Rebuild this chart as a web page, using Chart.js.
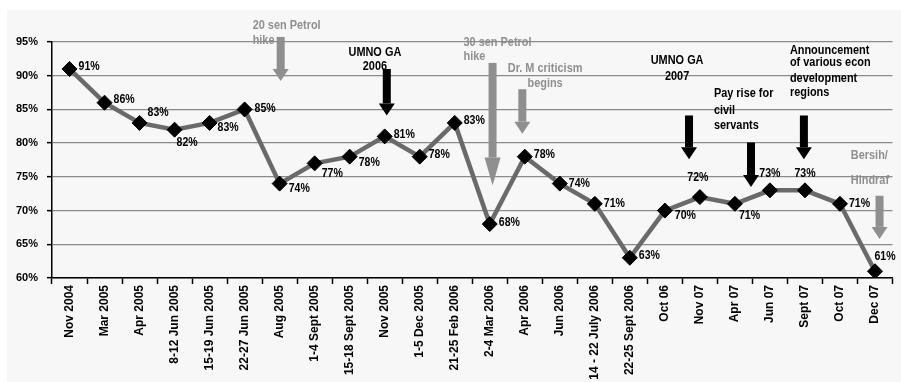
<!DOCTYPE html>
<html>
<head>
<meta charset="utf-8">
<script src="https://cdn.jsdelivr.net/npm/chart.js@4.4.1/dist/chart.umd.min.js"></script>
<style>
  html, body { margin: 0; padding: 0; background: #fff; }
  #wrap { width: 901px; height: 382px; }
</style>
</head>
<body>
<div id="wrap"><canvas id="approval" width="901" height="382"></canvas></div>
<script>
// Data
const categories = [
  'Nov 2004', 'Mar 2005', 'Apr 2005', '8-12 Jun 2005', '15-19 Jun 2005', '22-27 Jun 2005',
  'Aug 2005', '1-4 Sept 2005', '15-18 Sept 2005', 'Nov 2005', '1-5 Dec 2005', '21-25 Feb 2006',
  '2-4 Mar 2006', 'Apr 2006', 'Jun 2006', '14 - 22 July 2006', '22-25 Sept 2006', 'Oct 06',
  'Nov 07', 'Apr 07', 'Jun 07', 'Sept 07', 'Oct 07', 'Dec 07'
];
const approval = [91, 86, 83, 82, 83, 85, 74, 77, 78, 81, 78, 83, 68, 78, 74, 71, 63, 70, 72, 71, 73, 73, 71, 61];
const yTickValues = [60, 65, 70, 75, 80, 85, 90, 95];
const yTickLabels = ['60%', '65%', '70%', '75%', '80%', '85%', '90%', '95%'];

// where each value label sits relative to its marker: [dx, dy, align]
const labelPlacement = [
  [9, -2, 'left'], [9, -3, 'left'], [8, -10, 'left'], [2, 13, 'left'], [8, 5, 'left'], [10, -1, 'left'],
  [9, 5, 'left'], [7, 10, 'left'], [9, 6, 'left'], [9, -2, 'left'], [9, -2, 'left'], [9, -2, 'left'],
  [9, -1, 'left'], [9, -2, 'left'], [9, 0, 'left'], [9, 0, 'left'], [9, -2, 'left'], [10, 5, 'left'],
  [-2, -19, 'center'], [4, 12, 'left'], [0, -17, 'center'], [0, -17, 'center'], [9, 0, 'left'], [10, -15, 'center']
];

// event notes: text anchored at (category index, value), arrow from value a0 to a1
const GREY = '#8f8f8f';
const events = [
  { lines: ['20 sen Petrol', 'hike'], color: GREY, align: 'left', tx: 5.23, ty: [97.5, 95.3], ax: 6.03, a0: 95.75, a1: 89.2, head: 12 },
  { lines: ['UMNO GA', '2006'], color: '#000', align: 'center', tx: 8.72, ty: [93.5, 91.4], ax: 9.06, a0: 91.0, a1: 84.1, head: 12 },
  { lines: ['30 sen Petrol', 'hike'], color: GREY, align: 'left', tx: 11.25, ty: [95.0, 92.8], ax: 12.08, a0: 91.9, a1: 73.7, head: 28 },
  { lines: ['Dr. M criticism', 'begins'], color: GREY, align: 'center', tx: 13.58, ty: [91.1, 88.9], ax: 12.93, a0: 88.0, a1: 81.4, head: 12 },
  { lines: ['UMNO GA', '2007'], color: '#000', align: 'center', tx: 17.35, ty: [92.3, 89.9], ax: 17.69, a0: 84.1, a1: 77.6, head: 12 },
  { lines: ['Pay rise for', 'civil', 'servants'], color: '#000', align: 'left', tx: 18.4, ty: [87.3, 84.9, 82.6], ax: 19.46, a0: 80.1, a1: 73.5, head: 12 },
  { lines: ['Announcement', 'of various econ', 'development', 'regions'], color: '#000', align: 'left', tx: 20.57, ty: [93.8, 91.9, 89.6, 87.5], ax: 20.97, a0: 84.1, a1: 77.6, head: 12 },
  { lines: ['Bersih/', 'Hindraf'], color: GREY, align: 'left', tx: 22.31, ty: [78.2, 74.4], ax: 23.13, a0: 72.2, a1: 65.8, head: 12 }
];

const FONT = '"Liberation Sans", Arial, sans-serif';

// narrow-looking text: squeeze horizontally
function narrowText(c, t, x, y, align, sx) {
  c.save();
  c.translate(x, y);
  c.scale(sx, 1);
  c.textAlign = align;
  c.fillText(t, 0, 0);
  c.restore();
}

// light grey panel behind the chart
const panel = {
  id: 'panel',
  beforeDraw(chart) {
    const c = chart.ctx;
    c.save();
    c.fillStyle = '#f7f7f7';
    c.fillRect(7, 10, chart.width - 7, chart.height - 10);
    c.restore();
  }
};

const valueLabels = {
  id: 'valueLabels',
  afterDatasetsDraw(chart) {
    const c = chart.ctx;
    const meta = chart.getDatasetMeta(0);
    c.save();
    c.font = 'bold 12px ' + FONT;
    c.fillStyle = '#000';
    c.textBaseline = 'middle';
    meta.data.forEach((pt, i) => {
      const p = labelPlacement[i];
      narrowText(c, approval[i] + '%', pt.x + p[0], pt.y + p[1], p[2], 0.88);
    });
    c.restore();
  }
};

const notes = {
  id: 'notes',
  afterDraw(chart) {
    const c = chart.ctx;
    const xs = chart.scales.x, ys = chart.scales.y;
    const x0 = xs.getPixelForValue(0);
    const step = xs.getPixelForValue(1) - x0;
    const px = f => x0 + f * step;
    c.save();
    events.forEach(ev => {
      c.fillStyle = ev.color;
      c.font = 'bold 13px ' + FONT;
      c.textBaseline = 'middle';
      ev.lines.forEach((t, k) => narrowText(c, t, px(ev.tx), ys.getPixelForValue(ev.ty[k]), ev.align, 0.84));

      // arrow pointing down
      const ax = px(ev.ax);
      const y0 = ys.getPixelForValue(ev.a0);
      const y1 = ys.getPixelForValue(ev.a1);
      const sw = 8, hw = 16;
      c.fillRect(ax - sw / 2, y0, sw, y1 - y0 - ev.head);
      c.beginPath();
      c.moveTo(ax - hw / 2, y1 - ev.head);
      c.lineTo(ax + hw / 2, y1 - ev.head);
      c.lineTo(ax, y1);
      c.closePath();
      c.fill();
    });
    c.restore();
  }
};

new Chart(document.getElementById('approval'), {
  type: 'line',
  data: {
    labels: categories,
    datasets: [{
      data: approval,
      borderColor: '#6a6a6a',
      borderWidth: 4.5,
      tension: 0,
      pointStyle: 'rectRot',
      pointRadius: 7.5,
      pointBackgroundColor: '#000',
      pointBorderColor: '#000',
      pointBorderWidth: 1
    }]
  },
  options: {
    responsive: false,
    animation: false,
    layout: { padding: { left: 0, top: 42, right: 7, bottom: 0 } },
    plugins: {
      legend: { display: false },
      tooltip: { enabled: false }
    },
    scales: {
      x: {
        offset: true,
        grid: { display: true, offset: true, drawOnChartArea: false, drawTicks: true, tickLength: 6, tickColor: '#000', tickWidth: 1.5 },
        border: { display: true, color: '#000', width: 1.5 },
        ticks: {
          autoSkip: false,
          maxRotation: 90,
          minRotation: 90,
          padding: 1,
          color: '#000',
          font: { family: FONT, size: 12, weight: 'bold' }
        },
        afterFit(scale) { scale.height = 104; }
      },
      y: {
        min: 60,
        max: 95,
        afterBuildTicks(scale) { scale.ticks = yTickValues.map(v => ({ value: v })); },
        grid: { color: '#8a8a8a', lineWidth: 1.3, tickLength: 5, tickColor: '#000', tickWidth: 1.5 },
        border: { display: true, color: '#000', width: 1.5 },
        ticks: {
          padding: 9,
          color: '#000',
          font: { family: FONT, size: 11, weight: 'bold' },
          callback: (v) => yTickLabels[yTickValues.indexOf(v)]
        },
        afterFit(scale) { scale.width = 52; }
      }
    }
  },
  plugins: [panel, valueLabels, notes]
});
</script>
</body>
</html>
